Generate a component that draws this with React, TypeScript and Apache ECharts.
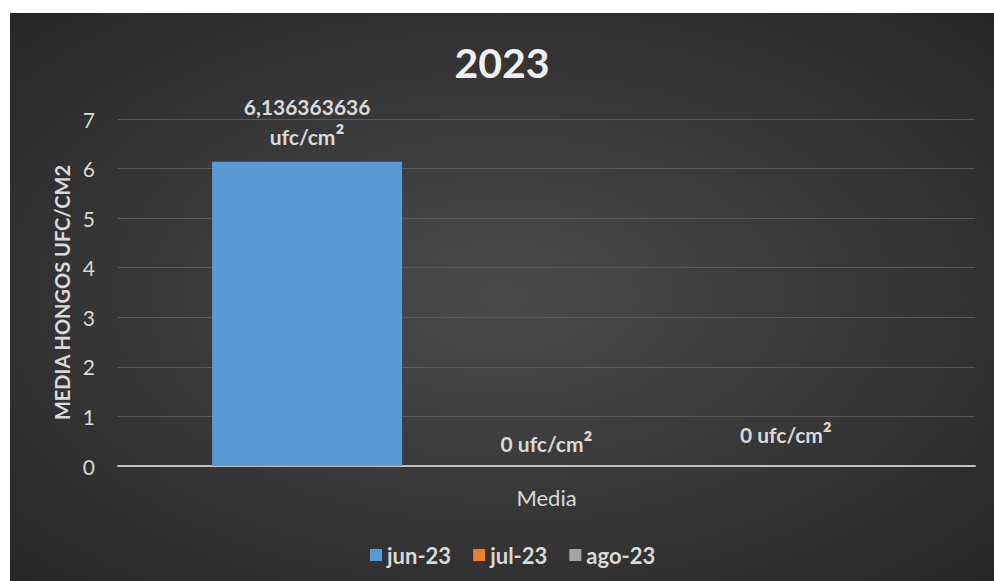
import React, { useEffect, useRef } from "react";
import * as echarts from "echarts";

const categories = ["Media"];
const seriesNames = ["jun-23", "jul-23", "ago-23"];
const jun23 = [6.136363636];
const jul23 = [0];
const ago23 = [0];
const yTicks = { min: 0, max: 7, interval: 1 };
const titleText = "2023";
const yAxisName = "MEDIA HONGOS UFC/CM2";
const unitBase = "ufc/cm";
const unitSup = "²";

const FONT = "Lato, 'Open Sans', sans-serif";

export default function App() {
  const ref = useRef<HTMLDivElement>(null);
  useEffect(() => {
    if (!ref.current) return;
    const chart = echarts.init(ref.current, undefined, { renderer: "svg" });
    const fmt = (p: any) => {
      const v = String(p.value).replace(".", ",");
      return p.value === 0
        ? `{b|${v} ${unitBase}}{s|${unitSup}}`
        : `{b|${v}}\n{b|${unitBase}}{s|${unitSup}}`;
    };
    const label = (distance: number) => ({
      show: true,
      position: "top",
      distance,
      formatter: fmt,
      color: "#d9d9d9",
      fontWeight: "bold",
      fontSize: 21,
      lineHeight: 30,
      fontFamily: FONT,
      rich: {
        b: { color: "#d9d9d9", fontWeight: "bold", fontSize: 21, lineHeight: 30, fontFamily: FONT },
        s: { color: "#d9d9d9", fontWeight: "bold", fontSize: 27, lineHeight: 30, fontFamily: FONT },
      },
    });
    const colors = ["#5b9bd5", "#ed7d31", "#a5a5a5"];
    const datas = [jun23, jul23, ago23];
    const distances = [10, 8, 17];
    chart.setOption({
      animation: false,
      backgroundColor: {
        type: "radial",
        x: 0.5,
        y: 0.5,
        r: 0.75,
        colorStops: [
          { offset: 0, color: "#4a4a4a" },
          { offset: 1, color: "#242424" },
        ],
      },
      title: {
        text: titleText,
        left: "center",
        top: 24,
        textStyle: { color: "#f2f2f2", fontSize: 41, fontWeight: "bold", fontFamily: FONT },
      },
      grid: { left: 108, right: 19, top: 106, bottom: 115 },
      legend: {
        data: seriesNames,
        top: 526,
        left: 355,
        itemWidth: 12,
        itemHeight: 12,
        itemGap: 22,
        icon: "rect",
        textStyle: { color: "#d9d9d9", fontSize: 22, fontWeight: "bold", fontFamily: FONT },
      },
      xAxis: {
        type: "category",
        data: categories,
        axisLine: { lineStyle: { color: "#bfbfbf", width: 2 } },
        axisTick: { show: false },
        axisLabel: { color: "#d9d9d9", fontSize: 22, margin: 20, fontFamily: FONT },
      },
      yAxis: {
        type: "value",
        min: yTicks.min,
        max: yTicks.max,
        interval: yTicks.interval,
        name: yAxisName,
        nameLocation: "middle",
        nameGap: 45,
        nameTextStyle: { color: "#d9d9d9", fontSize: 20, fontWeight: "bold", fontFamily: FONT },
        axisLine: { show: false },
        axisTick: { show: false },
        axisLabel: { color: "#d9d9d9", fontSize: 21, margin: 23, fontFamily: FONT },
        splitLine: { lineStyle: { color: "#595959", width: 1 } },
      },
      series: seriesNames.map((name, i) => ({
        name,
        type: "bar",
        data: datas[i],
        barWidth: 190,
        barGap: "26%",
        itemStyle: { color: colors[i] },
        label: label(distances[i]),
      })),
    });
    return () => chart.dispose();
  }, []);
  return (
    <div style={{ position: "fixed", left: 0, top: 0, width: 994, height: 581, background: "#ffffff" }}>
      <div ref={ref} style={{ position: "absolute", left: 10, top: 13, width: 984, height: 568 }} />
    </div>
  );
}
